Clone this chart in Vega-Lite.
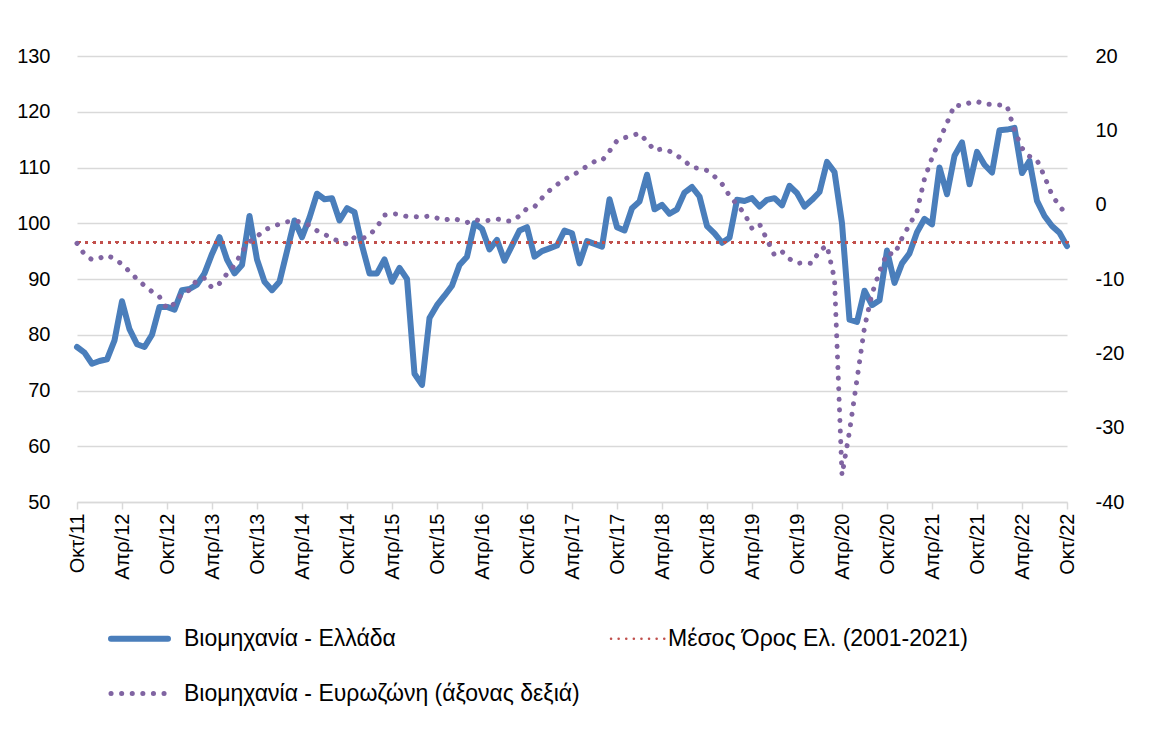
{
  "$schema": "https://vega.github.io/schema/vega-lite/v6.json",
  "autosize": "none",
  "width": 990,
  "height": 446,
  "padding": {"left": 77, "top": 56, "right": 87, "bottom": 238},
  "background": "white",
  "config": {
    "font": "Liberation Sans",
    "view": {"stroke": null},
    "axis": {"labelColor": "#000000", "labelFont": "Liberation Sans", "title": null}
  },
  "data": {"values": [
    {"m":"Οκτ/11","gr":77.8,"ez":-5.2},{"m":"Νοε/11","gr":76.8,"ez":-6.7},{"m":"Δεκ/11","gr":74.8,"ez":-7.4},
    {"m":"Ιαν/12","gr":75.3,"ez":-7.2},{"m":"Φεβ/12","gr":75.6,"ez":-6.8},{"m":"Μαρ/12","gr":79,"ez":-7.3},{"m":"Απρ/12","gr":86,"ez":-8.0},{"m":"Μαϊ/12","gr":81,"ez":-9.0},{"m":"Ιουν/12","gr":78.3,"ez":-10.0},{"m":"Ιουλ/12","gr":77.8,"ez":-10.9},{"m":"Αυγ/12","gr":80,"ez":-11.7},{"m":"Σεπ/12","gr":85,"ez":-12.4},{"m":"Οκτ/12","gr":85,"ez":-14.0},{"m":"Νοε/12","gr":84.5,"ez":-13.3},{"m":"Δεκ/12","gr":88,"ez":-12.0},
    {"m":"Ιαν/13","gr":88.2,"ez":-11.5},{"m":"Φεβ/13","gr":89,"ez":-10.1},{"m":"Μαρ/13","gr":91,"ez":-9.9},{"m":"Απρ/13","gr":94.5,"ez":-11.2},{"m":"Μαϊ/13","gr":97.5,"ez":-10.6},{"m":"Ιουν/13","gr":93.5,"ez":-9.3},{"m":"Ιουλ/13","gr":91,"ez":-8.2},{"m":"Αυγ/13","gr":92.5,"ez":-6.3},{"m":"Σεπ/13","gr":101.3,"ez":-5.0},{"m":"Οκτ/13","gr":93.5,"ez":-4.3},{"m":"Νοε/13","gr":89.5,"ez":-3.4},{"m":"Δεκ/13","gr":88,"ez":-3.0},
    {"m":"Ιαν/14","gr":89.5,"ez":-2.6},{"m":"Φεβ/14","gr":95,"ez":-2.3},{"m":"Μαρ/14","gr":100.5,"ez":-2.2},{"m":"Απρ/14","gr":97.5,"ez":-2.3},{"m":"Μαϊ/14","gr":101,"ez":-2.8},{"m":"Ιουν/14","gr":105.3,"ez":-3.5},{"m":"Ιουλ/14","gr":104.3,"ez":-4.0},{"m":"Αυγ/14","gr":104.5,"ez":-4.5},{"m":"Σεπ/14","gr":100.5,"ez":-5.0},{"m":"Οκτ/14","gr":102.7,"ez":-5.3},{"m":"Νοε/14","gr":102,"ez":-4.4},{"m":"Δεκ/14","gr":96,"ez":-4.6},
    {"m":"Ιαν/15","gr":91,"ez":-4.1},{"m":"Φεβ/15","gr":91,"ez":-3.0},{"m":"Μαρ/15","gr":93.5,"ez":-1.4},{"m":"Απρ/15","gr":89.5,"ez":-1.2},{"m":"Μαϊ/15","gr":92,"ez":-1.3},{"m":"Ιουν/15","gr":90,"ez":-1.6},{"m":"Ιουλ/15","gr":73,"ez":-1.6},{"m":"Αυγ/15","gr":71,"ez":-1.7},{"m":"Σεπ/15","gr":83,"ez":-1.5},{"m":"Οκτ/15","gr":85.3,"ez":-1.8},{"m":"Νοε/15","gr":87,"ez":-2.1},{"m":"Δεκ/15","gr":88.8,"ez":-1.8},
    {"m":"Ιαν/16","gr":92.5,"ez":-2.1},{"m":"Φεβ/16","gr":94,"ez":-2.4},{"m":"Μαρ/16","gr":100,"ez":-2.0},{"m":"Απρ/16","gr":99,"ez":-2.2},{"m":"Μαϊ/16","gr":95.3,"ez":-2.1},{"m":"Ιουν/16","gr":97,"ez":-1.9},{"m":"Ιουλ/16","gr":93.3,"ez":-2.2},{"m":"Αυγ/16","gr":96,"ez":-2.2},{"m":"Σεπ/16","gr":98.7,"ez":-1.5},{"m":"Οκτ/16","gr":99.3,"ez":-0.5},{"m":"Νοε/16","gr":94,"ez":-0.3},{"m":"Δεκ/16","gr":95,"ez":0.9},
    {"m":"Ιαν/17","gr":95.5,"ez":1.9},{"m":"Φεβ/17","gr":96,"ez":2.7},{"m":"Μαρ/17","gr":98.7,"ez":3.4},{"m":"Απρ/17","gr":98.2,"ez":3.9},{"m":"Μαϊ/17","gr":92.8,"ez":4.5},{"m":"Ιουν/17","gr":96.8,"ez":5.2},{"m":"Ιουλ/17","gr":96.3,"ez":5.8},{"m":"Αυγ/17","gr":95.8,"ez":5.9},{"m":"Σεπ/17","gr":104.3,"ez":7.2},{"m":"Οκτ/17","gr":99.3,"ez":8.6},{"m":"Νοε/17","gr":98.7,"ez":9.0},{"m":"Δεκ/17","gr":102.7,"ez":9.3},
    {"m":"Ιαν/18","gr":103.9,"ez":9.6},{"m":"Φεβ/18","gr":108.7,"ez":8.5},{"m":"Μαρ/18","gr":102.5,"ez":7.3},{"m":"Απρ/18","gr":103.3,"ez":7.5},{"m":"Μαϊ/18","gr":101.7,"ez":7.2},{"m":"Ιουν/18","gr":102.5,"ez":6.6},{"m":"Ιουλ/18","gr":105.5,"ez":5.9},{"m":"Αυγ/18","gr":106.5,"ez":5.0},{"m":"Σεπ/18","gr":104.8,"ez":4.9},{"m":"Οκτ/18","gr":99.5,"ez":4.6},{"m":"Νοε/18","gr":98.2,"ez":3.8},{"m":"Δεκ/18","gr":96.5,"ez":2.8},
    {"m":"Ιαν/19","gr":97.4,"ez":1.2},{"m":"Φεβ/19","gr":104.2,"ez":0.0},{"m":"Μαρ/19","gr":104,"ez":-1.2},{"m":"Απρ/19","gr":104.5,"ez":-3.2},{"m":"Μαϊ/19","gr":103,"ez":-2.6},{"m":"Ιουν/19","gr":104.2,"ez":-4.7},{"m":"Ιουλ/19","gr":104.5,"ez":-6.8},{"m":"Αυγ/19","gr":103.2,"ez":-6.3},{"m":"Σεπ/19","gr":106.7,"ez":-7.3},{"m":"Οκτ/19","gr":105.4,"ez":-7.9},{"m":"Νοε/19","gr":103,"ez":-7.8},{"m":"Δεκ/19","gr":104.2,"ez":-7.9},
    {"m":"Ιαν/20","gr":105.6,"ez":-6.2},{"m":"Φεβ/20","gr":111,"ez":-5.5},{"m":"Μαρ/20","gr":109.2,"ez":-10.0},{"m":"Απρ/20","gr":100,"ez":-36.4},{"m":"Μαϊ/20","gr":82.7,"ez":-30.5},{"m":"Ιουν/20","gr":82.3,"ez":-23.5},{"m":"Ιουλ/20","gr":87.9,"ez":-16.5},{"m":"Αυγ/20","gr":85.3,"ez":-12.0},{"m":"Σεπ/20","gr":86.2,"ez":-9.0},{"m":"Οκτ/20","gr":95.1,"ez":-6.5},{"m":"Νοε/20","gr":89.3,"ez":-6.7},{"m":"Δεκ/20","gr":92.8,"ez":-4.5},
    {"m":"Ιαν/21","gr":94.6,"ez":-2.7},{"m":"Φεβ/21","gr":98.4,"ez":-0.9},{"m":"Μαρ/21","gr":100.8,"ez":3.5},{"m":"Απρ/21","gr":99.8,"ez":6.3},{"m":"Μαϊ/21","gr":110,"ez":8.7},{"m":"Ιουν/21","gr":105.2,"ez":11.0},{"m":"Ιουλ/21","gr":112.1,"ez":13.4},{"m":"Αυγ/21","gr":114.5,"ez":13.3},{"m":"Σεπ/21","gr":107,"ez":13.7},{"m":"Οκτ/21","gr":112.8,"ez":13.9},{"m":"Νοε/21","gr":110.5,"ez":13.5},{"m":"Δεκ/21","gr":109.1,"ez":13.5},
    {"m":"Ιαν/22","gr":116.7,"ez":13.4},{"m":"Φεβ/22","gr":116.8,"ez":13.3},{"m":"Μαρ/22","gr":117.1,"ez":10.0},{"m":"Απρ/22","gr":109,"ez":7.6},{"m":"Μαϊ/22","gr":111.2,"ez":6.5},{"m":"Ιουν/22","gr":104,"ez":6.0},{"m":"Ιουλ/22","gr":101.3,"ez":3.8},{"m":"Αυγ/22","gr":99.5,"ez":1.3},{"m":"Σεπ/22","gr":98.3,"ez":-0.2},{"m":"Οκτ/22","gr":95.9,"ez":-1.4}
  ]},
  "layer": [
    {
      "mark": {"type": "line", "strokeWidth": 6, "strokeCap": "round", "strokeJoin": "round"},
      "encoding": {
        "x": {
          "field": "m", "type": "ordinal", "sort": null,
          "scale": {"type": "point", "padding": 0},
          "axis": {
            "values": ["Οκτ/11","Απρ/12","Οκτ/12","Απρ/13","Οκτ/13","Απρ/14","Οκτ/14","Απρ/15","Οκτ/15","Απρ/16","Οκτ/16","Απρ/17","Οκτ/17","Απρ/18","Οκτ/18","Απρ/19","Οκτ/19","Απρ/20","Οκτ/20","Απρ/21","Οκτ/21","Απρ/22","Οκτ/22"],
            "labelAngle": -90, "labelAlign": "right", "labelBaseline": "middle",
            "labelFontSize": 20, "labelPadding": 4,
            "tickColor": "#d9d9d9", "tickWidth": 1.5, "tickSize": 7,
            "domainColor": "#d9d9d9", "domainWidth": 1.5, "grid": false, "title": null
          }
        },
        "y": {
          "field": "gr", "type": "quantitative",
          "scale": {"domain": [50, 130], "nice": false, "zero": false},
          "axis": {
            "values": [50, 60, 70, 80, 90, 100, 110, 120, 130],
            "labelFontSize": 20, "labelPadding": 27, "domain": false, "ticks": false,
            "grid": true, "gridColor": "#d9d9d9", "gridWidth": 1.5, "title": null
          }
        },
        "color": {
          "datum": "Βιομηχανία  - Ελλάδα",
          "scale": {
            "domain": ["Βιομηχανία  - Ελλάδα", "Μέσος Όρος Ελ. (2001-2021)", "Βιομηχανία - Ευρωζώνη (άξονας δεξιά)"],
            "range": ["#4a7ebb", "#c0504d", "#8064a2"]
          },
          "legend": {
            "title": null, "orient": "none", "legendX": 51, "legendY": 571,
            "direction": "horizontal", "columns": 2, "columnPadding": 26, "rowPadding": 31,
            "padding": 0, "symbolType": "stroke", "symbolSize": 3249, "symbolStrokeWidth": 6,
            "labelFontSize": 23, "labelColor": "#000000", "labelOffset": 33, "labelLimit": 700,
            "encode": {
              "symbols": {
                "update": {
                  "strokeCap": {"value": "round"},
                  "strokeWidth": {"signal": "datum.value == 'Βιομηχανία  - Ελλάδα' ? 6 : datum.value == 'Μέσος Όρος Ελ. (2001-2021)' ? 2.5 : 5"},
                  "strokeDash": {"signal": "datum.value == 'Βιομηχανία  - Ελλάδα' ? [1, 0] : datum.value == 'Μέσος Όρος Ελ. (2001-2021)' ? [0.1, 7.5] : [0.1, 10.5]"}
                }
              },
              "labels": {
                "update": {
                  "dx": {"signal": "datum.value == 'Μέσος Όρος Ελ. (2001-2021)' ? -16 : 0"}
                }
              }
            }
          }
        }
      }
    },
    {
      "mark": {"type": "rule", "strokeWidth": 2.5, "strokeCap": "round", "strokeDash": [0.1, 7.5]},
      "encoding": {
        "y": {"datum": 96.6, "type": "quantitative", "scale": {"domain": [50, 130], "nice": false, "zero": false}, "axis": null},
        "color": {"datum": "Μέσος Όρος Ελ. (2001-2021)"}
      }
    },
    {
      "mark": {"type": "line", "strokeWidth": 5, "strokeCap": "round", "strokeJoin": "round", "strokeDash": [0.1, 10.5]},
      "encoding": {
        "x": {"field": "m", "type": "ordinal", "sort": null},
        "y": {
          "field": "ez", "type": "quantitative",
          "scale": {"domain": [-40, 20], "nice": false, "zero": false},
          "axis": {
            "orient": "right", "values": [-40, -30, -20, -10, 0, 10, 20],
            "labelExpr": "'' + datum.value",
            "labelFontSize": 20, "labelPadding": 28, "domain": false, "ticks": false,
            "grid": false, "title": null
          }
        },
        "color": {"datum": "Βιομηχανία - Ευρωζώνη (άξονας δεξιά)"}
      }
    }
  ],
  "resolve": {"scale": {"y": "independent"}}
}
